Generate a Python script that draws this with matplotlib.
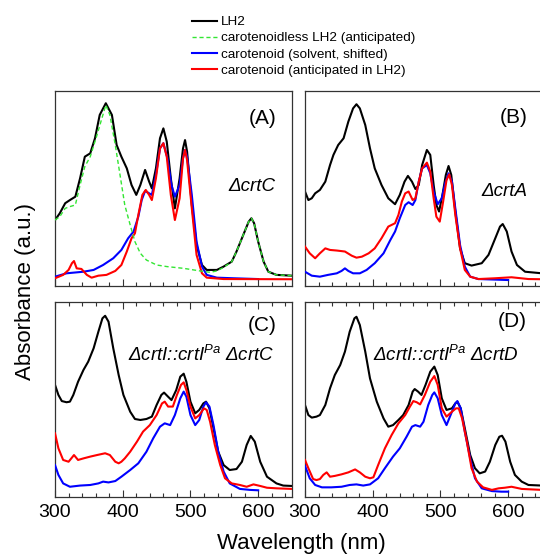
import numpy as np
import matplotlib
matplotlib.use('Agg')
import matplotlib.pyplot as plt
from matplotlib.ticker import MultipleLocator

plt.rcParams['font.family'] = 'Liberation Sans'
plt.rcParams['mathtext.fontset'] = 'custom'
plt.rcParams['mathtext.it'] = 'Liberation Sans:italic'
plt.rcParams['mathtext.rm'] = 'Liberation Sans'
plt.rcParams['mathtext.default'] = 'it'

# ---- (A) dcrtC ----
wl_a_lh2 = [300, 307, 315, 322, 330, 337, 344, 352, 359, 366, 375, 384, 391, 398, 406, 413, 420, 426,
            433, 439, 443, 449, 455, 460, 465, 471, 477, 484, 489, 492, 495, 502, 509, 517, 524, 539,
            549, 561, 568, 578, 586, 590, 594, 600, 608, 615, 627, 650]
ab_a_lh2 = [0.343, 0.377, 0.428, 0.444, 0.461, 0.554, 0.663, 0.680, 0.756, 0.874, 0.933, 0.874, 0.722,
            0.663, 0.604, 0.520, 0.470, 0.520, 0.596, 0.537, 0.503, 0.604, 0.756, 0.806, 0.739, 0.554,
            0.402, 0.554, 0.705, 0.747, 0.689, 0.419, 0.217, 0.116, 0.091, 0.091, 0.108, 0.133, 0.184,
            0.268, 0.335, 0.352, 0.327, 0.234, 0.133, 0.082, 0.066, 0.062]

wl_a_nocar = [300, 307, 315, 322, 330, 337, 344, 352, 362, 375, 381, 389, 396, 403, 411, 418, 426, 435,
              450, 465, 490, 514, 529, 539, 549, 561, 568, 578, 586, 590, 594, 600, 608, 615, 627, 650]
ab_a_nocar = [0.343, 0.360, 0.402, 0.411, 0.419, 0.520, 0.613, 0.663, 0.773, 0.924, 0.874, 0.722, 0.571,
              0.419, 0.318, 0.234, 0.175, 0.141, 0.116, 0.108, 0.099, 0.086, 0.079, 0.086, 0.104, 0.133,
              0.184, 0.268, 0.335, 0.352, 0.327, 0.234, 0.133, 0.082, 0.066, 0.062]

wl_a_solv = [300, 317, 342, 357, 371, 386, 398, 408, 416, 423, 428, 433, 439, 443, 449, 455, 460, 466,
             472, 477, 484, 489, 492, 495, 502, 509, 517, 524, 539, 563, 600]
ab_a_solv = [0.057, 0.074, 0.082, 0.091, 0.116, 0.150, 0.192, 0.251, 0.285, 0.360, 0.444, 0.490, 0.478,
             0.470, 0.571, 0.705, 0.731, 0.655, 0.520, 0.461, 0.520, 0.655, 0.697, 0.663, 0.470, 0.234,
             0.108, 0.066, 0.052, 0.049, 0.045]

wl_a_car = [300, 312, 320, 325, 328, 332, 339, 347, 354, 364, 376, 389, 398, 406, 413, 418, 423, 429,
            434, 439, 443, 449, 455, 460, 465, 471, 477, 484, 489, 492, 495, 502, 509, 517, 524, 549, 650]
ab_a_car = [0.049, 0.066, 0.091, 0.125, 0.136, 0.099, 0.096, 0.066, 0.052, 0.062, 0.066, 0.086, 0.116,
            0.184, 0.251, 0.276, 0.369, 0.470, 0.495, 0.470, 0.444, 0.554, 0.705, 0.731, 0.663, 0.470,
            0.343, 0.453, 0.655, 0.697, 0.646, 0.402, 0.167, 0.074, 0.052, 0.045, 0.044]

# ---- (B) dcrtA ----
wl_b_lh2 = [300, 305, 310, 315, 322, 330, 337, 342, 349, 357, 364, 371, 376, 381, 389, 396, 403, 413,
            423, 433, 440, 447, 452, 458, 463, 468, 473, 480, 485, 490, 494, 498, 503, 508, 512, 516,
            522, 529, 536, 546, 561, 571, 581, 588, 592, 598, 605, 613, 625, 650]
ab_b_lh2 = [0.487, 0.444, 0.453, 0.478, 0.495, 0.537, 0.621, 0.672, 0.722, 0.756, 0.840, 0.907, 0.928,
            0.907, 0.823, 0.705, 0.604, 0.520, 0.453, 0.423, 0.470, 0.537, 0.566, 0.537, 0.500, 0.520,
            0.621, 0.697, 0.672, 0.520, 0.419, 0.386, 0.470, 0.571, 0.616, 0.571, 0.386, 0.200, 0.125,
            0.113, 0.125, 0.167, 0.251, 0.310, 0.323, 0.285, 0.184, 0.116, 0.082, 0.074]

wl_b_solv = [300, 310, 322, 334, 347, 354, 359, 364, 371, 381, 391, 403, 416, 426, 433, 440, 448, 453,
             459, 463, 468, 473, 480, 485, 490, 496, 502, 507, 512, 517, 522, 529, 536, 544, 556, 600]
ab_b_solv = [0.082, 0.062, 0.057, 0.066, 0.074, 0.086, 0.099, 0.086, 0.074, 0.074, 0.091, 0.125, 0.175,
             0.242, 0.285, 0.352, 0.419, 0.433, 0.419, 0.444, 0.537, 0.604, 0.621, 0.579, 0.487, 0.423,
             0.453, 0.529, 0.579, 0.537, 0.402, 0.217, 0.108, 0.057, 0.045, 0.040]

wl_b_car = [300, 307, 315, 322, 330, 337, 347, 359, 369, 376, 384, 394, 403, 413, 423, 433, 438, 443,
            448, 453, 459, 463, 468, 473, 480, 485, 490, 494, 499, 504, 509, 513, 517, 522, 529, 536,
            544, 556, 581, 605, 630, 650]
ab_b_car = [0.209, 0.175, 0.150, 0.175, 0.200, 0.192, 0.189, 0.184, 0.163, 0.153, 0.158, 0.175, 0.200,
            0.251, 0.310, 0.327, 0.369, 0.436, 0.478, 0.487, 0.444, 0.453, 0.537, 0.604, 0.633, 0.588,
            0.453, 0.360, 0.335, 0.436, 0.545, 0.574, 0.520, 0.369, 0.200, 0.091, 0.057, 0.045, 0.049,
            0.054, 0.045, 0.044]

# ---- (C) dcrtI::crtI(Pa) dcrtC ----
wl_c_lh2 = [300, 305, 310, 317, 322, 327, 334, 342, 349, 357, 364, 370, 374, 379, 386, 394, 401, 411,
            418, 426, 435, 443, 450, 457, 461, 467, 472, 479, 485, 490, 494, 500, 507, 513, 519, 523,
            528, 534, 541, 549, 558, 568, 576, 583, 589, 595, 603, 613, 627, 637, 650]
ab_c_lh2 = [0.569, 0.518, 0.487, 0.481, 0.484, 0.518, 0.585, 0.645, 0.687, 0.755, 0.839, 0.907, 0.920,
            0.890, 0.755, 0.619, 0.518, 0.433, 0.396, 0.391, 0.396, 0.408, 0.467, 0.518, 0.530, 0.509,
            0.492, 0.543, 0.611, 0.626, 0.585, 0.484, 0.425, 0.442, 0.475, 0.484, 0.450, 0.349, 0.230,
            0.162, 0.137, 0.142, 0.179, 0.264, 0.310, 0.281, 0.179, 0.103, 0.069, 0.058, 0.056]

wl_c_solv = [300, 305, 312, 322, 337, 352, 364, 371, 379, 389, 398, 411, 423, 435, 445, 455, 462, 470,
             477, 485, 490, 494, 500, 507, 513, 519, 523, 528, 534, 541, 549, 558, 573, 588, 600]
ab_c_solv = [0.162, 0.112, 0.069, 0.052, 0.058, 0.061, 0.069, 0.078, 0.074, 0.081, 0.103, 0.137, 0.171,
             0.230, 0.298, 0.357, 0.374, 0.365, 0.416, 0.501, 0.535, 0.509, 0.416, 0.365, 0.391, 0.459,
             0.481, 0.459, 0.365, 0.230, 0.129, 0.069, 0.041, 0.036, 0.034]

wl_c_car = [300, 305, 312, 320, 325, 328, 334, 342, 352, 362, 374, 381, 389, 394, 398, 403, 411, 421,
            430, 440, 450, 458, 462, 467, 474, 480, 486, 490, 494, 500, 507, 513, 520, 524, 529, 536,
            544, 551, 561, 573, 583, 593, 603, 613, 627, 650]
ab_c_car = [0.323, 0.247, 0.188, 0.179, 0.200, 0.213, 0.188, 0.196, 0.205, 0.213, 0.222, 0.213, 0.179,
            0.171, 0.179, 0.196, 0.230, 0.281, 0.332, 0.365, 0.416, 0.475, 0.484, 0.459, 0.459, 0.518,
            0.569, 0.582, 0.543, 0.459, 0.399, 0.416, 0.450, 0.442, 0.382, 0.264, 0.162, 0.095, 0.069,
            0.061, 0.052, 0.064, 0.056, 0.047, 0.044, 0.041]

# ---- (D) dcrtI::crtI(Pa) dcrtD ----
wl_d_lh2 = [300, 305, 310, 317, 322, 330, 337, 344, 352, 359, 366, 373, 376, 381, 389, 396, 406, 416,
            423, 430, 438, 445, 453, 459, 462, 467, 472, 478, 485, 491, 496, 502, 509, 517, 522, 525,
            530, 536, 544, 551, 558, 566, 573, 581, 587, 591, 596, 603, 610, 620, 630, 650]
ab_d_lh2 = [0.467, 0.416, 0.403, 0.408, 0.416, 0.467, 0.552, 0.619, 0.670, 0.738, 0.839, 0.907, 0.915,
            0.873, 0.738, 0.602, 0.484, 0.399, 0.357, 0.365, 0.391, 0.416, 0.467, 0.535, 0.548, 0.535,
            0.518, 0.569, 0.636, 0.662, 0.619, 0.501, 0.442, 0.450, 0.475, 0.484, 0.450, 0.349, 0.213,
            0.146, 0.120, 0.129, 0.179, 0.264, 0.306, 0.311, 0.281, 0.179, 0.112, 0.078, 0.061, 0.058]

wl_d_solv = [300, 307, 315, 325, 339, 354, 366, 376, 386, 396, 408, 418, 430, 440, 450, 458, 463, 470,
             475, 482, 488, 491, 496, 502, 509, 517, 522, 525, 530, 536, 544, 551, 561, 576, 590, 600]
ab_d_solv = [0.159, 0.095, 0.061, 0.049, 0.049, 0.052, 0.061, 0.064, 0.058, 0.064, 0.095, 0.146, 0.205,
             0.247, 0.306, 0.357, 0.365, 0.357, 0.382, 0.467, 0.518, 0.531, 0.501, 0.416, 0.365, 0.433,
             0.475, 0.487, 0.450, 0.332, 0.196, 0.095, 0.044, 0.030, 0.027, 0.027]

wl_d_car = [300, 305, 312, 317, 322, 327, 332, 337, 344, 354, 364, 374, 381, 389, 396, 401, 408, 418,
            428, 438, 448, 455, 460, 465, 470, 477, 485, 491, 496, 502, 509, 517, 523, 527, 532, 539,
            546, 554, 563, 576, 586, 595, 605, 620, 650]
ab_d_car = [0.188, 0.146, 0.091, 0.086, 0.091, 0.112, 0.125, 0.103, 0.107, 0.115, 0.125, 0.140, 0.125,
            0.103, 0.095, 0.100, 0.162, 0.247, 0.315, 0.374, 0.416, 0.459, 0.487, 0.481, 0.470, 0.518,
            0.585, 0.614, 0.569, 0.450, 0.408, 0.433, 0.450, 0.450, 0.399, 0.281, 0.146, 0.078, 0.049,
            0.036, 0.044, 0.047, 0.052, 0.041, 0.036]

legend_labels = ['LH2', 'carotenoidless LH2 (anticipated)', 'carotenoid (solvent, shifted)',
                 'carotenoid (anticipated in LH2)']
panel_tags = ['(A)', '(B)', '(C)', '(D)']
strain_names = ['ΔcrtC', 'ΔcrtA', 'ΔcrtI::crtI$^{Pa}$ ΔcrtC', 'ΔcrtI::crtI$^{Pa}$ ΔcrtD']

panels = [
    dict(lh2=(wl_a_lh2, ab_a_lh2), nocar=(wl_a_nocar, ab_a_nocar), solv=(wl_a_solv, ab_a_solv),
         car=(wl_a_car, ab_a_car), rect=[0.1019, 0.4838, 0.4389, 0.352], ylim=(0.01, 0.995),
         top=False, labels=False, tag_xy=(0.878, 0.86), name_xy=(0.831, 0.51)),
    dict(lh2=(wl_b_lh2, ab_b_lh2), nocar=None, solv=(wl_b_solv, ab_b_solv),
         car=(wl_b_car, ab_b_car), rect=[0.5648, 0.4838, 0.4389, 0.352], ylim=(0.01, 0.995),
         top=False, labels=False, tag_xy=(0.882, 0.865), name_xy=(0.84, 0.485)),
    dict(lh2=(wl_c_lh2, ab_c_lh2), nocar=None, solv=(wl_c_solv, ab_c_solv),
         car=(wl_c_car, ab_c_car), rect=[0.1019, 0.1029, 0.4389, 0.352], ylim=(0.0, 0.99),
         top=True, labels=True, tag_xy=(0.873, 0.88), name_xy=(0.616, 0.73)),
    dict(lh2=(wl_d_lh2, ab_d_lh2), nocar=None, solv=(wl_d_solv, ab_d_solv),
         car=(wl_d_car, ab_d_car), rect=[0.5648, 0.1029, 0.4389, 0.352], ylim=(0.0, 0.99),
         top=True, labels=True, tag_xy=(0.873, 0.90), name_xy=(0.595, 0.73)),
]

fig = plt.figure(figsize=(5.4, 5.54), dpi=100)

handles = None
for i, p in enumerate(panels):
    ax = fig.add_axes(p['rect'])
    h1, = ax.plot(*p['lh2'], color='black', lw=1.5, zorder=2, solid_joinstyle='round')
    h3, = ax.plot(*p['solv'], color='#0000ff', lw=1.5, zorder=3, solid_joinstyle='round')
    h4, = ax.plot(*p['car'], color='#ff0000', lw=1.5, zorder=4, solid_joinstyle='round')
    if p['nocar'] is not None:
        h2, = ax.plot(*p['nocar'], color='#33e633', lw=1.0, ls=(0, (3, 2)), zorder=5)
        handles = [h1, h2, h3, h4]

    ax.set_xlim(300, 650)
    ax.set_ylim(*p['ylim'])
    ax.set_yticks([])
    ax.xaxis.set_major_locator(MultipleLocator(100))
    ax.xaxis.set_minor_locator(MultipleLocator(20))
    ax.tick_params(axis='x', which='both', direction='in', top=p['top'], bottom=True,
                   labelbottom=p['labels'], labelsize=14, pad=5, color='#333333')
    ax.tick_params(axis='x', which='major', length=5, width=0.8)
    ax.tick_params(axis='x', which='minor', length=3, width=0.8)
    for s in ax.spines.values():
        s.set_color('#333333')
        s.set_linewidth(0.9)

    ax.text(*p['tag_xy'], panel_tags[i], transform=ax.transAxes, ha='center', va='center',
            fontsize=15)
    ax.text(*p['name_xy'], strain_names[i], transform=ax.transAxes, ha='center', va='center',
            fontsize=13.5, style='italic')

fig.legend(handles, legend_labels, loc='upper left', bbox_to_anchor=(192 / 540, 1 - 16 / 554),
           frameon=False, fontsize=9.7, handlelength=1.85, handletextpad=0.3, labelspacing=0.27,
           borderpad=0, borderaxespad=0)

fig.text(301 / 540, 1 - 543 / 554, 'Wavelength (nm)', ha='center', va='center', fontsize=16)
fig.text(26 / 540, 1 - 291 / 554, 'Absorbance (a.u.)', ha='center', va='center', fontsize=16,
         rotation=90)

fig.savefig('out.png', dpi=100)
